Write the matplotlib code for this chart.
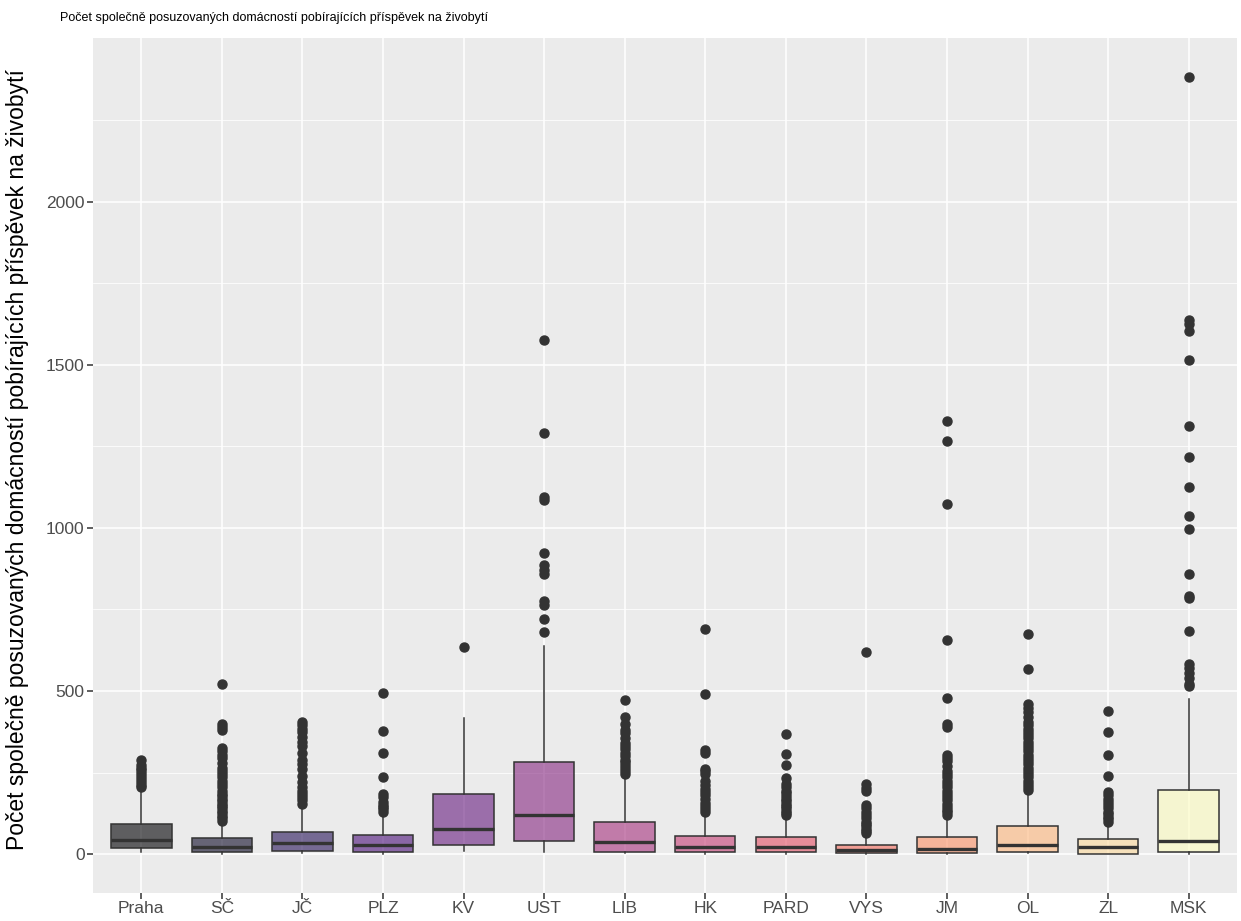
import numpy as np
import matplotlib.pyplot as plt

plt.rcParams['font.family'] = ['Liberation Sans', 'DejaVu Sans']

kraje = ['Praha', 'SČ', 'JČ', 'PLZ', 'KV', 'UST', 'LIB', 'HK', 'PARD', 'VYS', 'JM', 'OL', 'ZL', 'MSK']

# box statistics
whis_lo = [6, 2, 4, 2, 10, 6, 3, 2, 2, 1, 1, 3, 1, 2]
q1 = [20, 8, 11, 8, 27, 39, 8, 8, 8, 3, 3, 6, 2, 8]
median = [43, 23, 33, 27, 77, 121, 36, 22, 23, 13, 16, 28, 22, 39]
q3 = [92, 51, 67, 58, 183, 282, 100, 57, 53, 29, 52, 85, 45, 196]
whis_hi = [194, 98, 145, 121, 418, 637, 234, 121, 115, 60, 114, 191, 92, 477]

outliers = [
    [205, 212, 220, 230, 240, 250, 258, 265, 272, 290],
    [102, 110, 118, 125, 133, 140, 148, 155, 162, 170, 178, 185, 195, 205, 215, 225, 235, 245,
     255, 265, 280, 295, 305, 315, 325, 380, 390, 398, 523],
    [155, 165, 175, 185, 195, 205, 220, 240, 260, 275, 290, 310, 330, 345, 360, 375, 385, 395, 405],
    [130, 138, 145, 152, 160, 175, 185, 235, 311, 378, 495],
    [634],
    [680, 720, 763, 775, 860, 870, 886, 923, 1086, 1095, 1292, 1576],
    [245, 255, 265, 272, 282, 290, 300, 310, 322, 332, 341, 355, 370, 382, 400, 419, 471],
    [128, 138, 148, 158, 168, 180, 190, 200, 212, 225, 245, 255, 262, 310, 320, 490, 689],
    [120, 126, 133, 140, 147, 155, 162, 170, 178, 186, 195, 205, 215, 234, 272, 308, 369],
    [65, 72, 78, 85, 92, 100, 110, 120, 130, 140, 150, 195, 203, 215, 621],
    [120, 128, 136, 145, 155, 165, 175, 185, 195, 205, 215, 225, 235, 245, 255, 270, 285, 295,
     305, 390, 400, 480, 655, 1074, 1265, 1326],
    [198, 206, 215, 225, 235, 245, 255, 265, 275, 285, 295, 305, 315, 325, 335, 345, 355, 365,
     375, 385, 395, 405, 420, 435, 448, 460, 566, 674],
    [100, 108, 115, 122, 130, 140, 150, 160, 170, 180, 190, 240, 305, 375, 440],
    [514, 520, 540, 555, 569, 584, 685, 785, 791, 859, 995, 1035, 1125, 1217, 1313, 1515, 1603,
     1625, 1637, 2382],
]

stats = []
for i in range(len(kraje)):
    stats.append({'label': kraje[i], 'whislo': whis_lo[i], 'q1': q1[i], 'med': median[i],
                  'q3': q3[i], 'whishi': whis_hi[i], 'fliers': outliers[i]})

fig = plt.figure(figsize=(12.41, 9.21), dpi=100)
ax = fig.add_axes([0.0749, 0.0304, 0.9219, 0.9283])
ax.set_facecolor('#EBEBEB')

ax.set_yticks([250, 750, 1250, 1750, 2250], minor=True)
ax.grid(True, which='major', color='white', linewidth=1.1, zorder=0)
ax.grid(True, which='minor', axis='y', color='white', linewidth=0.55, zorder=0)
ax.set_axisbelow(True)

bp = ax.bxp(stats, positions=np.arange(1, 15), widths=0.75, patch_artist=True,
            showcaps=False, manage_ticks=False,
            boxprops=dict(edgecolor='#333333', linewidth=1.1),
            whiskerprops=dict(color='#333333', linewidth=1.1),
            medianprops=dict(color='#333333', linewidth=2.4),
            flierprops=dict(marker='o', markerfacecolor='#333333', markeredgecolor='#333333',
                            markersize=6.5, linestyle='none'))

colors = plt.get_cmap('magma')(np.linspace(0, 1, len(kraje)))
for patch, c in zip(bp['boxes'], colors):
    patch.set_facecolor((c[0], c[1], c[2], 0.6))

ax.set_xlim(0.4, 14.6)
ax.set_ylim(-119, 2501)
ax.set_xticks(np.arange(1, 15))
ax.set_xticklabels(kraje)
ax.set_yticks([0, 500, 1000, 1500, 2000])
ax.tick_params(axis='both', which='major', colors='#333333', labelcolor='#4D4D4D',
               labelsize=12.5, length=4, width=1.1, pad=2)
ax.tick_params(which='minor', length=0)
for s in ax.spines.values():
    s.set_visible(False)

ax.set_ylabel('Počet společně posuzovaných domácností pobírajících příspěvek na živobytí',
              fontsize=16.5, color='black')
ax.yaxis.set_label_coords(-0.0555, 0.507)
fig.text(60 / 1241, 1 - 18 / 921,
         'Počet společně posuzovaných domácností pobírajících příspěvek na živobytí',
         fontsize=9, va='center', ha='left')

fig.savefig('out.png', dpi=100)
